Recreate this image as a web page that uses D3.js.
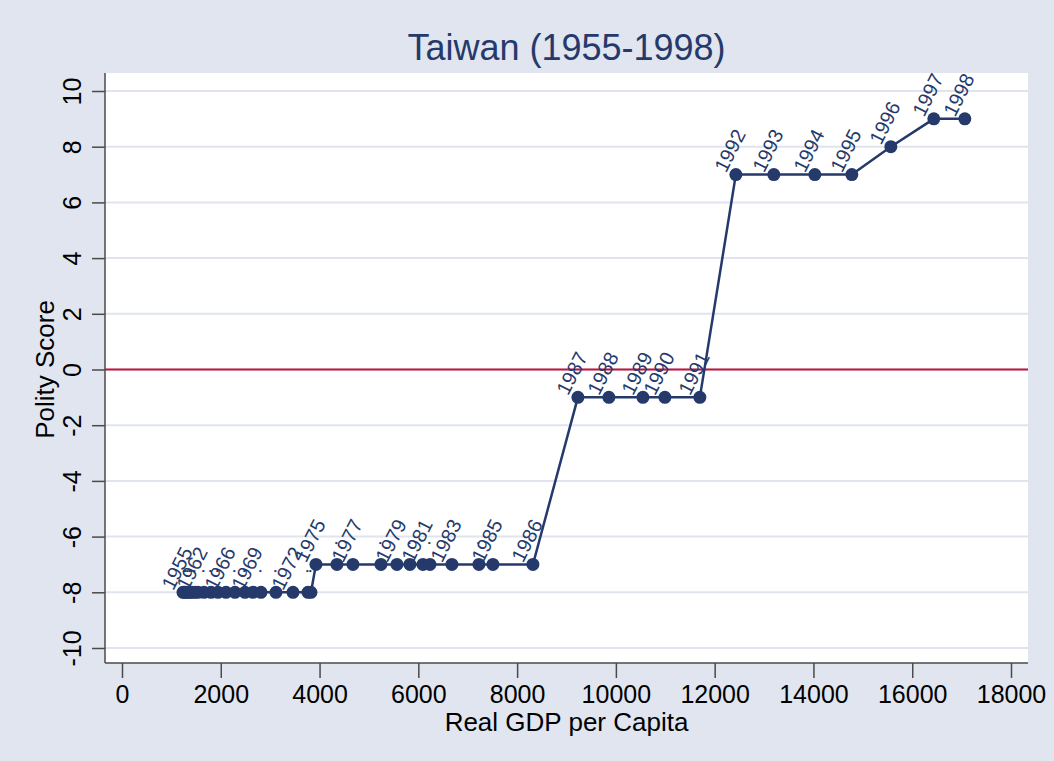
<!DOCTYPE html>
<html>
<head>
<meta charset="utf-8">
<script src="https://cdn.jsdelivr.net/npm/d3@7"></script>
<style>
  html, body { margin: 0; padding: 0; background: #e0e5ef; }
  svg { display: block; font-family: "Liberation Sans", Arial, sans-serif; }
</style>
</head>
<body>
<div id="chart"></div>
<script>
// Taiwan 1955-1998: real GDP per capita vs polity score
const years = [1955, 1956, 1957, 1958, 1959, 1960, 1961, 1962, 1963, 1964,
    1965, 1966, 1967, 1968, 1969, 1970, 1971, 1972, 1973, 1974,
    1975, 1976, 1977, 1978, 1979, 1980, 1981, 1982, 1983, 1984,
    1985, 1986, 1987, 1988, 1989, 1990, 1991, 1992, 1993, 1994,
    1995, 1996, 1997, 1998];

const gdp = [1235, 1265, 1295, 1335, 1375, 1417, 1478, 1538, 1660, 1802,
    1943, 2105, 2287, 2490, 2652, 2814, 3117, 3462, 3765, 3826,
    3927, 4352, 4676, 5243, 5567, 5830, 6093, 6235, 6680, 7227,
    7510, 8320, 9231, 9858, 10547, 10992, 11700, 12429, 13198, 14028,
    14777, 15567, 16437, 17065];

const polity = [-8, -8, -8, -8, -8, -8, -8, -8, -8, -8,
    -8, -8, -8, -8, -8, -8, -8, -8, -8, -8,
    -7, -7, -7, -7, -7, -7, -7, -7, -7, -7,
    -7, -7, -1, -1, -1, -1, -1, 7, 7, 7,
    7, 8, 9, 9];

// marker labels (missing ones show as ".")
const pointLabels = ['1955', '.', '.', '.', '.', '.', '.', '1962', '.', '.',
    '.', '1966', '.', '.', '1969', '.', '.', '1972', '.', '.',
    '1975', '.', '1977', '.', '1979', '.', '1981', '.', '1983', '.',
    '1985', '1986', '1987', '1988', '1989', '1990', '1991', '1992', '1993', '1994',
    '1995', '1996', '1997', '1998'];

const xTicks = [0, 2000, 4000, 6000, 8000, 10000, 12000, 14000, 16000, 18000];
const yTicks = [-10, -8, -6, -4, -2, 0, 2, 4, 6, 8, 10];

const W = 1054, H = 761;
const navy = '#253a6b';
const gridColor = '#dfe4ee';
const axisColor = '#4a4a4a';

const plot = { left: 105, right: 1028, top: 73, bottom: 663 };

const svg = d3.select('#chart')
    .append('svg')
    .attr('width', W)
    .attr('height', H);

svg.append('rect')
    .attr('width', W)
    .attr('height', H)
    .attr('fill', '#e0e5ef');

// Scales
const x = d3.scaleLinear().domain([0, 18000]).range([122, 1011]);
const y = d3.scaleLinear().domain([-10, 10]).range([648, 91]);

// Plot region
svg.append('rect')
    .attr('x', plot.left)
    .attr('y', plot.top)
    .attr('width', plot.right - plot.left)
    .attr('height', plot.bottom - plot.top)
    .attr('fill', '#ffffff');

// Grid
svg.append('g')
    .selectAll('line')
    .data(yTicks)
    .enter()
    .append('line')
    .attr('x1', plot.left)
    .attr('x2', plot.right)
    .attr('y1', d => y(d))
    .attr('y2', d => y(d))
    .attr('stroke', gridColor)
    .attr('stroke-width', 2);

// Reference line at 0
svg.append('line')
    .attr('x1', plot.left)
    .attr('x2', plot.right)
    .attr('y1', y(0))
    .attr('y2', y(0))
    .attr('stroke', '#c4123b')
    .attr('stroke-width', 2);

// Axes (plain hyphen for negatives, like the original)
const yAxis = svg.append('g')
    .attr('transform', `translate(${plot.left},0)`)
    .call(d3.axisLeft(y).tickValues(yTicks).tickSize(13).tickPadding(0).tickFormat(d => String(d)));

yAxis.select('.domain')
    .attr('d', `M0,${plot.top}V${plot.bottom}`);

yAxis.selectAll('.tick text')
    .attr('x', null)
    .attr('dy', null)
    .attr('transform', 'translate(-24,0) rotate(-90)')
    .attr('text-anchor', 'middle')
    .attr('y', 0)
    .style('font-size', '25px');

const xAxis = svg.append('g')
    .attr('transform', `translate(0,${plot.bottom})`)
    .call(d3.axisBottom(x).tickValues(xTicks).tickSize(15).tickFormat(d => String(d)));

xAxis.select('.domain')
    .attr('d', `M${plot.left},0H${plot.right}`);

xAxis.selectAll('.tick text')
    .attr('y', 40)
    .attr('dy', null)
    .style('font-size', '25px');

svg.selectAll('.domain, .tick line')
    .attr('stroke', axisColor)
    .attr('stroke-width', 1.5);

svg.selectAll('.tick text')
    .attr('fill', '#000')
    .style('font-family', '"Liberation Sans", Arial, sans-serif');

// Axis titles
svg.append('text')
    .attr('x', (plot.left + plot.right) / 2)
    .attr('y', 731)
    .attr('text-anchor', 'middle')
    .style('font-size', '26px')
    .text('Real GDP per Capita');

svg.append('text')
    .attr('transform', `translate(54,${y(0)}) rotate(-90)`)
    .attr('text-anchor', 'middle')
    .style('font-size', '26px')
    .text('Polity Score');

// Title
svg.append('text')
    .attr('x', (plot.left + plot.right) / 2)
    .attr('y', 60)
    .attr('text-anchor', 'middle')
    .attr('fill', navy)
    .style('font-size', '36px')
    .text('Taiwan (1955-1998)');

// Data
const points = years.map((yr, i) => ({ year: yr, gdp: gdp[i], polity: polity[i], label: pointLabels[i] }));

const line = d3.line()
    .x(d => x(d.gdp))
    .y(d => y(d.polity));

svg.append('path')
    .datum(points)
    .attr('d', line)
    .attr('fill', 'none')
    .attr('stroke', navy)
    .attr('stroke-width', 2.5);

svg.append('g')
    .selectAll('circle')
    .data(points)
    .enter()
    .append('circle')
    .attr('cx', d => x(d.gdp))
    .attr('cy', d => y(d.polity))
    .attr('r', 6.5)
    .attr('fill', navy);

svg.append('g')
    .selectAll('text')
    .data(points)
    .enter()
    .append('text')
    .attr('transform', d => `translate(${x(d.gdp) - 6},${y(d.polity) - 24}) rotate(-63)`)
    .attr('text-anchor', 'middle')
    .attr('dominant-baseline', 'central')
    .attr('fill', navy)
    .style('font-size', '20px')
    .text(d => d.label);
</script>
</body>
</html>
